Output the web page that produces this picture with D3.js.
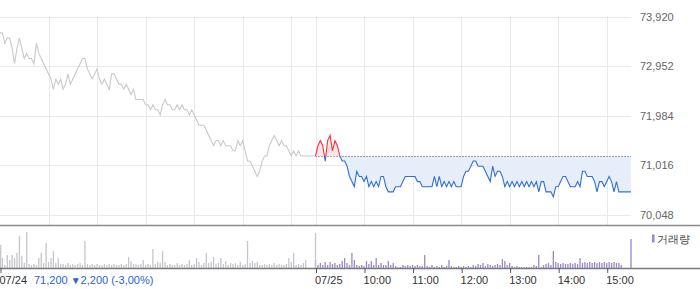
<!DOCTYPE html>
<html>
<head>
<meta charset="utf-8">
<title>2일 시세</title>
<style>
  body { margin: 0; background: #fff; }
  svg text { font-family: "Liberation Sans", Arial, sans-serif; }
</style>
</head>
<body>
<svg id="chart" width="700" height="289"></svg>
<script src="https://cdnjs.cloudflare.com/ajax/libs/d3/7.8.5/d3.min.js"></script>
<script>
// price every 3 minutes, 09:00 -> 15:30
const day1Price = [
  73600,73600,73400,73500,73500,73300,73000,73300,73500,73300,
  73100,73200,73100,73100,73000,73400,73200,73100,73000,72900,
  72800,72700,72500,72700,72600,72700,72500,72600,72800,72600,
  72700,72800,72900,73000,73100,73100,72900,72800,72700,72800,
  72900,72700,72600,72700,72600,72500,72800,72800,72700,72600,
  72600,72500,72600,72500,72400,72500,72300,72300,72300,72300,
  72200,72200,72100,72200,72100,72100,72000,72200,72300,72200,
  72200,72100,72100,72200,72100,72200,72100,72100,72000,72100,
  72000,71900,71800,71800,71800,71700,71600,71500,71400,71500,
  71500,71400,71500,71400,71400,71400,71300,71300,71500,71400,
  71500,71300,71100,71100,71000,70900,70800,70900,71100,71200,
  71200,71400,71500,71600,71500,71400,71500,71400,71400,71300,
  71200,71300,71200,71300,71200,71200,71200,71200,71200,71200,
  71200
];
const day2Price = [
  71200,71400,71500,71400,71100,71500,71600,71300,71500,71400,
  71200,71100,71100,71000,70800,70700,70600,70900,70800,70800,
  70700,70800,70600,70700,70600,70700,70600,70800,70800,70600,
  70500,70500,70500,70600,70600,70600,70700,70800,70800,70800,
  70800,70800,70700,70700,70600,70600,70600,70600,70600,70800,
  70600,70800,70600,70700,70600,70700,70600,70700,70600,70600,
  70600,70800,70900,70900,71000,71100,71100,71000,71000,71000,
  70900,70800,70700,71000,70800,70900,70900,70800,70600,70700,
  70600,70700,70600,70700,70600,70700,70600,70700,70600,70700,
  70600,70700,70500,70700,70700,70500,70500,70500,70400,70600,
  70600,70700,70800,70800,70700,70600,70600,70600,70700,70600,
  70900,70900,70800,70800,70800,70700,70500,70700,70700,70600,
  70700,70800,70700,70500,70700,70500,70500,70500,70500,70500,
  70500
];
// volume (thousand shares) every 3 minutes
const day1Vol = [
  460,200,60,260,160,260,200,300,640,240,
  100,720,80,60,80,60,200,300,100,500,
  120,200,340,100,200,80,80,60,100,60,
  80,60,80,100,60,540,80,60,80,60,
  80,60,60,80,60,80,60,80,60,60,
  80,60,80,220,140,80,80,60,80,160,
  60,80,60,380,80,120,100,340,120,60,
  80,60,60,100,60,80,60,80,160,60,
  80,200,120,60,100,300,100,120,220,80,
  100,200,80,140,60,100,80,100,60,120,
  60,80,540,100,140,100,120,60,60,80,
  60,80,60,100,60,80,60,60,80,200,
  120,300,60,80,60,100,160,0,0,0,
  700
];
const day2Vol = [
  160,60,100,60,120,60,120,80,100,60,
  80,140,200,100,60,300,160,60,40,60,
  40,140,80,140,60,200,60,100,60,60,
  140,60,100,40,20,20,60,40,60,40,
  60,40,60,40,40,260,40,20,60,20,
  40,20,60,20,40,160,40,20,20,40,
  20,40,20,40,20,60,40,80,60,100,
  40,80,60,40,60,80,60,180,140,60,
  100,40,20,40,20,20,20,20,20,20,
  60,40,260,20,60,80,100,60,340,120,
  100,80,100,80,80,100,80,100,80,200,
  100,120,100,120,100,120,100,120,100,120,
  100,120,100,120,100,100,60,0,0,0,
  580
];
const yTicks = [70048, 71016, 71984, 72952, 73920];
const dayLabels = ['07/24', '07/25'];
const hourLabels = ['10:00', '11:00', '12:00', '13:00', '14:00', '15:00'];
const prevClose = 71200;
const closeInfo = { price: '71,200', change: '2,200', pct: '(-3,00%)' };

const svg = d3.select('#chart');
const W = 631;
const x = d3.scaleLinear().domain([0, 780]).range([0, W]);
const y = d3.scaleLinear().domain([70048, 73920]).range([215, 16.5]);
const yv = d3.scaleLinear().domain([0, 800]).range([268, 228]);

const d1 = day1Price.map((p, i) => ({ t: i * 3, p }));
const d2 = day2Price.map((p, i) => ({ t: 390 + i * 3, p }));
const v1 = day1Vol.map((v, i) => ({ t: i * 3, v }));
const v2 = day2Vol.map((v, i) => ({ t: 390 + i * 3, v }));

// grid
const grid = svg.append('g');
grid.selectAll('line.h').data(yTicks).join('line')
  .attr('x1', 0).attr('x2', W)
  .attr('y1', d => Math.round(y(d)) + 0.5).attr('y2', d => Math.round(y(d)) + 0.5)
  .attr('stroke', '#e9e9ec');
const vt = [60, 120, 180, 240, 300, 360, 390, 450, 510, 570, 630, 690, 750];
grid.selectAll('line.v').data(vt).join('line')
  .attr('x1', d => Math.round(x(d)) + 0.5).attr('x2', d => Math.round(x(d)) + 0.5)
  .attr('y1', 16).attr('y2', 225)
  .attr('stroke', '#e9e9ec');

// clip for up/down around previous close
const yc = y(prevClose);
const defs = svg.append('defs');
defs.append('clipPath').attr('id', 'up').append('rect')
  .attr('x', 0).attr('y', 0).attr('width', W + 2).attr('height', yc);
defs.append('clipPath').attr('id', 'down').append('rect')
  .attr('x', 0).attr('y', yc).attr('width', W + 2).attr('height', 225 - yc);

const area = d3.area().x(d => x(d.t)).y0(yc).y1(d => y(d.p));
const line = d3.line().x(d => x(d.t)).y(d => y(d.p));

svg.append('path').datum(d2).attr('d', area).attr('fill', '#fde4e6').attr('clip-path', 'url(#up)');
svg.append('path').datum(d2).attr('d', area).attr('fill', '#e6eefa').attr('clip-path', 'url(#down)');

svg.append('line')
  .attr('x1', x(390)).attr('x2', W)
  .attr('y1', Math.round(yc) + 0.5).attr('y2', Math.round(yc) + 0.5)
  .attr('stroke', '#555').attr('stroke-dasharray', '1,2');

svg.append('path').datum(d1).attr('d', line)
  .attr('fill', 'none').attr('stroke', '#c9c9ce').attr('stroke-width', 1.1);
svg.append('path').datum(d2).attr('d', line)
  .attr('fill', 'none').attr('stroke', '#f2343c').attr('stroke-width', 1.1).attr('clip-path', 'url(#up)');
svg.append('path').datum(d2).attr('d', line)
  .attr('fill', 'none').attr('stroke', '#2f6fd6').attr('stroke-width', 1.1).attr('clip-path', 'url(#down)');

// right axis
const yAxis = svg.append('g').attr('transform', `translate(${W},0)`)
  .call(d3.axisRight(y).tickValues(yTicks).tickSize(0).tickPadding(9).tickFormat(d3.format(',')));
yAxis.select('.domain').remove();
yAxis.selectAll('text').attr('fill', '#666').attr('font-size', 11)
  .attr('font-family', '"Liberation Sans", Arial, sans-serif');

// panel separator
svg.append('line').attr('x1', 0).attr('x2', 700).attr('y1', 225.5).attr('y2', 225.5)
  .attr('stroke', '#8a8a8e').attr('stroke-width', 1.4);

// volume
const bw = 1.3;
svg.append('g').selectAll('rect').data(v2.filter(d => d.v > 0)).join('rect')
  .attr('x', d => x(d.t) - bw / 2).attr('width', bw)
  .attr('y', d => yv(d.v)).attr('height', d => yv(0) - yv(d.v))
  .attr('fill', '#9b86cc');
svg.append('g').selectAll('rect').data(v1.filter(d => d.v > 0)).join('rect')
  .attr('x', d => Math.max(0, x(d.t) - bw / 2)).attr('width', bw)
  .attr('y', d => yv(d.v)).attr('height', d => yv(0) - yv(d.v))
  .attr('fill', '#c6c6ca');

// bottom axis
const tickT = [0, 390, 450, 510, 570, 630, 690, 750];
const tickLab = [dayLabels[0], dayLabels[1], ...hourLabels];
const xAxis = svg.append('g').attr('transform', 'translate(0,268)')
  .call(d3.axisBottom(x).tickValues(tickT).tickSize(5).tickSizeOuter(0)
    .tickFormat((d, i) => tickLab[i]));
xAxis.select('.domain').attr('d', 'M0,0.5H700').attr('stroke', '#7a7a7e').attr('stroke-width', 1.3);
xAxis.selectAll('.tick line').attr('stroke', '#555').attr('transform', 'translate(0.5,0)');
xAxis.selectAll('.tick text')
  .attr('text-anchor', 'start').attr('x', -1)
  .attr('fill', '#333').attr('font-size', 11)
  .attr('font-family', '"Liberation Sans", Arial, sans-serif');

// close info
const info = svg.append('text').attr('x', 34).attr('y', 283.5)
  .attr('font-size', 11).attr('fill', '#2a62d4');
info.append('tspan').text(closeInfo.price + ' ');
info.append('tspan').attr('font-size', 10).text('▼');
info.append('tspan').text(closeInfo.change + ' ' + closeInfo.pct);

// legend
svg.append('rect').attr('x', 652).attr('y', 234.5).attr('width', 2.5).attr('height', 8).attr('fill', '#9b86cc');
svg.append('text').attr('x', 657).attr('y', 242.5).attr('font-size', 11)
  .attr('font-family', '"Noto Sans CJK KR", sans-serif').attr('fill', '#444').text('거래량');
</script>
</body>
</html>
